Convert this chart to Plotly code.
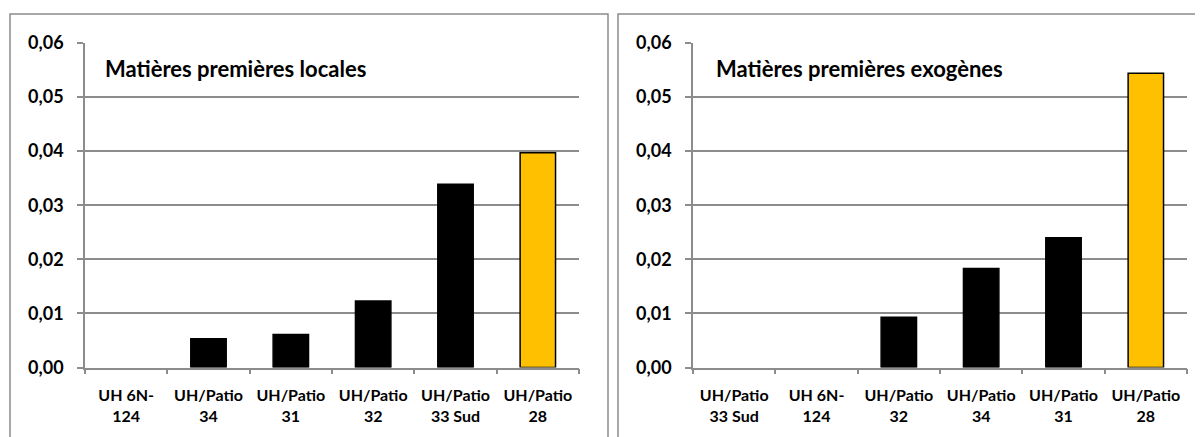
import plotly.graph_objects as go

W, H = 1203, 437
OFF = 8  # page body margin offset compensation

cats_local = ["UH 6N-<br>124", "UH/Patio<br>34", "UH/Patio<br>31", "UH/Patio<br>32", "UH/Patio<br>33 Sud", "UH/Patio<br>28"]
vals_local = [0.0, 0.0053, 0.0061, 0.0123, 0.0339, 0.0397]
colors_local = ["#000000", "#000000", "#000000", "#000000", "#000000", "#FFC000"]

cats_exo = ["UH/Patio<br>33 Sud", "UH 6N-<br>124", "UH/Patio<br>32", "UH/Patio<br>34", "UH/Patio<br>31", "UH/Patio<br>28"]
vals_exo = [0.0, 0.0, 0.0093, 0.0183, 0.0240, 0.0544]
colors_exo = ["#000000", "#000000", "#000000", "#000000", "#000000", "#FFC000"]

title_local = "Matières premières locales"
title_exo = "Matières premières exogènes"
y_ticks = [0, 0.01, 0.02, 0.03, 0.04, 0.05, 0.06]
y_ticktext = ["0,00", "0,01", "0,02", "0,03", "0,04", "0,05", "0,06"]

FONT = "Lato"
GRID = "#8c8c8c"


def px_x(p):
    return (p - OFF) / W


def px_y(p):
    return 1 - (p - OFF) / H


def bold(items):
    return ["<b>" + s + "</b>" for s in items]


def outline(vals):
    return [1.5 if v > 0 else 0 for v in vals]


fig = go.Figure()
fig.add_trace(go.Bar(x=cats_local, y=vals_local,
                     marker=dict(color=colors_local, line=dict(color="#000000", width=outline(vals_local))),
                     xaxis="x", yaxis="y", showlegend=False))
fig.add_trace(go.Bar(x=cats_exo, y=vals_exo,
                     marker=dict(color=colors_exo, line=dict(color="#000000", width=outline(vals_exo))),
                     xaxis="x2", yaxis="y2", showlegend=False))

ytop, ybot = px_y(43), px_y(367.5)

xcommon = dict(showline=True, linecolor=GRID, linewidth=1.5, ticks="outside", tickson="boundaries",
               ticklen=5, tickcolor=GRID, tickwidth=1.5, showgrid=False, automargin=False,
               ticklabelstandoff=13,
               tickfont=dict(family=FONT, size=16, color="#000000"), fixedrange=True, tickmode="array")
ycommon = dict(range=[0, 0.06], tickmode="array", tickvals=y_ticks, ticktext=bold(y_ticktext), showline=True,
               linecolor=GRID, linewidth=1.5, ticks="outside", ticklen=6, tickcolor=GRID, tickwidth=1.5,
               showgrid=True, gridcolor=GRID, gridwidth=1.5, zeroline=False, automargin=False,
               ticklabelstandoff=10,
               tickfont=dict(family=FONT, size=18, color="#000000"), fixedrange=True)

fig.update_layout(
    template=None,
    width=W, height=H, autosize=False,
    margin=dict(l=0, r=0, t=0, b=0, pad=0),
    paper_bgcolor="white", plot_bgcolor="white",
    bargap=0.57,
    font=dict(family=FONT, color="#000000"),
    xaxis=dict(domain=[px_x(85), px_x(579)], anchor="y", tickvals=cats_local, ticktext=bold(cats_local), **xcommon),
    yaxis=dict(domain=[ybot, ytop], anchor="x", **ycommon),
    xaxis2=dict(domain=[px_x(693), px_x(1187)], anchor="y2", tickvals=cats_exo, ticktext=bold(cats_exo), **xcommon),
    yaxis2=dict(domain=[ybot, ytop], anchor="x2", **ycommon),
    shapes=[
        dict(type="rect", xref="paper", yref="paper", x0=px_x(10), x1=px_x(608), y0=0, y1=px_y(14),
             line=dict(color=GRID, width=1.5), layer="below"),
        dict(type="rect", xref="paper", yref="paper", x0=px_x(618), x1=1.0, y0=0, y1=px_y(14),
             line=dict(color=GRID, width=1.5), layer="below"),
    ],
    annotations=[
        dict(text="<b>" + title_local + "</b>", xref="paper", yref="paper", x=px_x(103), y=px_y(68),
             xanchor="left", yanchor="middle", showarrow=False, font=dict(family=FONT, size=22, color="#000000")),
        dict(text="<b>" + title_exo + "</b>", xref="paper", yref="paper", x=px_x(714), y=px_y(68),
             xanchor="left", yanchor="middle", showarrow=False, font=dict(family=FONT, size=22, color="#000000")),
    ],
)

fig.write_html("out.html")
